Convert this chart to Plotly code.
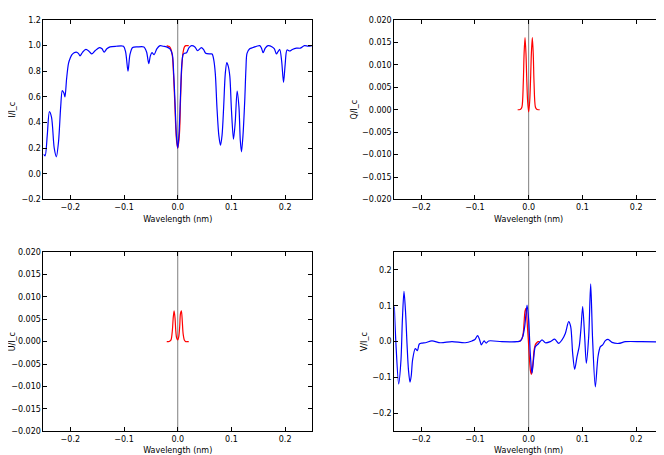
import plotly.graph_objects as go

# observed Stokes profiles (blue) and single-line synthesis (red)
wl_i = [-0.25, -0.247, -0.243, -0.239, -0.235, -0.230, -0.226, -0.222, -0.218, -0.215, -0.212, -0.210,
        -0.207, -0.2035, -0.200, -0.197, -0.193, -0.189, -0.185, -0.182, -0.177, -0.171, -0.165, -0.160,
        -0.154, -0.146, -0.141, -0.137, -0.132, -0.126, -0.115, -0.101, -0.097, -0.0926, -0.089, -0.084,
        -0.075, -0.063, -0.058, -0.054, -0.051, -0.048, -0.044, -0.039, -0.033, -0.027, -0.021, -0.0145,
        -0.010, -0.0075, -0.005, -0.0025, 0.0, 0.0025, 0.005, 0.0075, 0.010, 0.0125, 0.0164, 0.021,
        0.0257, 0.032, 0.037, 0.044, 0.048, 0.052, 0.0598, 0.064, 0.067, 0.070, 0.073, 0.0765, 0.0796,
        0.0825, 0.0855, 0.0885, 0.0914, 0.094, 0.097, 0.100, 0.1038, 0.107, 0.1106, 0.114, 0.1165,
        0.1187, 0.1215, 0.1248, 0.127, 0.129, 0.134, 0.140, 0.1527, 0.156, 0.159, 0.163, 0.168, 0.176,
        0.180, 0.1837, 0.187, 0.190, 0.1935, 0.197, 0.200, 0.2035, 0.2085, 0.2134, 0.221, 0.228, 0.236,
        0.243, 0.25]
stokes_i = [0.155, 0.14, 0.30, 0.485, 0.44, 0.20, 0.133, 0.25, 0.52, 0.65, 0.63, 0.60,
            0.74, 0.86, 0.905, 0.93, 0.945, 0.95, 0.94, 0.92, 0.95, 0.97, 0.955, 0.935,
            0.96, 0.985, 0.975, 0.95, 0.975, 0.99, 0.995, 0.995, 0.95, 0.80, 0.93, 0.985,
            0.99, 0.99, 0.95, 0.86, 0.92, 0.945, 0.93, 0.975, 1.0, 0.995, 0.99, 0.975,
            0.93, 0.78, 0.55, 0.30, 0.20, 0.32, 0.60, 0.85, 0.93, 0.94, 0.945, 0.985,
            1.0, 0.99, 0.96, 0.985, 0.97, 0.94, 0.935, 0.935, 0.89, 0.78, 0.52, 0.30, 0.224,
            0.30, 0.52, 0.78, 0.867, 0.84, 0.76, 0.50, 0.27, 0.40, 0.646, 0.52, 0.26,
            0.172, 0.30, 0.575, 0.82, 0.94, 0.975, 0.985, 1.0, 0.98, 0.945, 0.98, 1.0, 0.99,
            0.975, 0.935, 0.955, 0.97, 0.88, 0.713, 0.85, 0.966, 0.958, 0.97, 0.98, 0.98, 1.0,
            0.995, 1.0]

wl_v = [-0.25, -0.2465, -0.2419, -0.2376, -0.235, -0.232, -0.229, -0.2264, -0.2236, -0.2208, -0.2185,
        -0.216, -0.211, -0.207, -0.2035, -0.198, -0.192, -0.180, -0.164, -0.1427, -0.118, -0.1055, -0.100,
        -0.095, -0.091, -0.088, -0.083, -0.079, -0.0744, -0.050, -0.0217, -0.0155, -0.011, -0.0074, -0.003,
        0.0, 0.003, 0.0062, 0.0093, 0.0124, 0.0186, 0.0248, 0.031, 0.0403, 0.0484, 0.0558, 0.062, 0.0682,
        0.0744, 0.0782, 0.0819, 0.0856, 0.090, 0.0943, 0.0975, 0.1005, 0.1042, 0.1073, 0.1117, 0.1154,
        0.119, 0.124, 0.129, 0.1334, 0.1377, 0.1427, 0.1477, 0.155, 0.1675, 0.18, 0.21, 0.25]
stokes_v = [0.098, -0.02, -0.118, -0.051, 0.06, 0.14, 0.08, -0.005, -0.08, -0.113, -0.095,
            -0.051, -0.019, -0.025, -0.0065, -0.004, -0.003, 0.002, -0.003, 0.0, -0.003, 0.002, 0.006,
            0.017, 0.004, -0.009, 0.002, -0.004, 0.002, 0.0, 0.0, 0.002, 0.014, 0.042, 0.102,
            0.06, -0.033, -0.088, -0.047, -0.014, -0.005, 0.005, -0.003, 0.0, 0.007, -0.005, 0.005, 0.023,
            0.056, 0.042, -0.033, -0.077, -0.042, -0.011, 0.04, 0.098, 0.014, -0.06, 0.014, 0.161,
            0.005, -0.126, -0.042, -0.014, -0.009, 0.003, 0.0065, -0.002, -0.005, 0.0, 0.0, -0.001]

wl_syn = [-0.0205, -0.0175, -0.015, -0.0125, -0.010, -0.0085, -0.0068, -0.005, -0.0037, -0.002, 0.0,
          0.002, 0.0037, 0.005, 0.0068, 0.0085, 0.010, 0.0125, 0.015, 0.0175, 0.0205]
syn_i = [1.0, 0.995, 0.99, 0.97, 0.92, 0.83, 0.68, 0.50, 0.36, 0.25, 0.20,
         0.25, 0.35, 0.55, 0.77, 0.89, 0.95, 0.99, 1.0, 1.0, 1.0]
syn_q = [0.0, 0.0, 0.0001, 0.0006, 0.006, 0.0125, 0.0161, 0.0125, 0.0074, 0.002, -0.0005,
         0.002, 0.0074, 0.0125, 0.0161, 0.0125, 0.006, 0.0006, 0.0001, 0.0, 0.0]
syn_u = [0.0, 0.0, 0.0001, 0.0004, 0.0025, 0.0052, 0.0069, 0.0052, 0.0025, 0.0008, 0.0004,
         0.0012, 0.0035, 0.0062, 0.0069, 0.0045, 0.0018, 0.0003, 0.0, 0.0, 0.0]
syn_v = [0.0, 0.001, 0.003, 0.008, 0.025, 0.055, 0.085, 0.093, 0.075, 0.035, -0.01,
         -0.06, -0.085, -0.091, -0.078, -0.05, -0.025, -0.008, -0.003, 0.0, 0.0]

line_centre = 0.0
x_title = 'Wavelength (nm)'
fnt = dict(family='DejaVu Sans', size=8, color='black')

fig = go.Figure()
panels = [
    ('', 'I/I_c', [-0.2, 1.2], 0.2, '.1f', syn_i, stokes_i, wl_i, 4),
    ('2', 'Q/I_c', [-0.02, 0.02], 0.005, '.3f', syn_q, None, None, 3),
    ('3', 'U/I_c', [-0.02, 0.02], 0.005, '.3f', syn_u, None, None, 10),
    ('4', 'V/I_c', [-0.25, 0.25], 0.1, '.1f', syn_v, stokes_v, wl_v, 3),
]
# the page body adds an 8px offset, so the figure is 656x447
xdom = [[0.0541, 0.4634], [0.5889, 0.9985], [0.0541, 0.4634], [0.5889, 0.9985]]
ydom = [[0.5716, 0.9732], [0.5716, 0.9732], [0.0530, 0.4541], [0.0530, 0.4541]]

for k, (s, ytitle, yr, dt, fmt, syn, obs, wl_obs, yoff) in enumerate(panels):
    fig.add_trace(go.Scatter(x=wl_syn, y=syn, mode='lines', line=dict(color='#ff0000', width=1.2, shape='spline', smoothing=0.8),
                             xaxis='x' + s, yaxis='y' + s, showlegend=False))
    if obs is not None:
        fig.add_trace(go.Scatter(x=wl_obs, y=obs, mode='lines', line=dict(color='#0000ff', width=1.2, shape='spline', smoothing=0.8),
                                 xaxis='x' + s, yaxis='y' + s, showlegend=False))
    ax = dict(showline=True, linecolor='black', linewidth=1, mirror='allticks', ticks='inside', ticklen=4,
              tickcolor='black', showgrid=False, zeroline=False, tickfont=fnt, automargin=False)
    fig.update_layout({
        'xaxis' + s: dict(ax, domain=xdom[k], anchor='y' + s, range=[-0.25, 0.25], dtick=0.1, tickformat='.1f',
                          title=dict(text=x_title, font=fnt, standoff=5)),
        'yaxis' + s: dict(ax, domain=ydom[k], anchor='x' + s, range=yr, dtick=dt, tickformat=fmt,
                          title=dict(text=ytitle, font=fnt, standoff=yoff)),
    })
    fig.add_shape(type='line', xref='x' + s, yref='y' + s + ' domain', x0=line_centre, x1=line_centre, y0=0, y1=1,
                  line=dict(color='rgba(0,0,0,0.5)', width=1), layer='below')

fig.update_layout(width=656, height=447, margin=dict(l=0, r=0, t=0, b=0), plot_bgcolor='white', paper_bgcolor='white',
                  font=fnt)
fig.write_html("out.html")
